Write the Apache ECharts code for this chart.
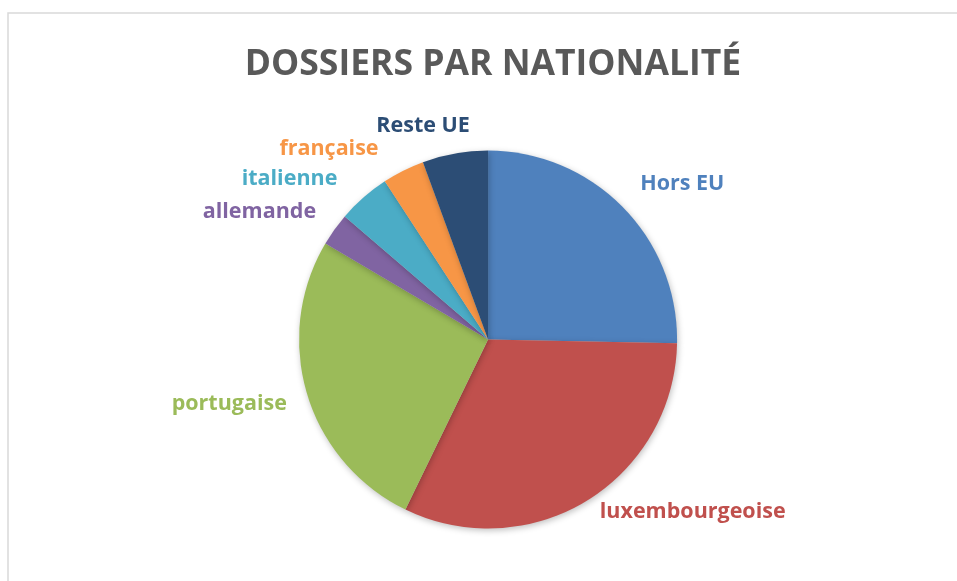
<!DOCTYPE html>
<html>
<head>
<meta charset="utf-8">
<script src="https://cdn.jsdelivr.net/npm/echarts@6/dist/echarts.min.js"></script>
<style>
html,body{margin:0;padding:0;background:#fff;}
#chart{width:957px;height:581px;}
</style>
</head>
<body>
<div id="chart"></div>
<script>
const categories = ["Hors EU", "luxembourgeoise", "portugaise", "allemande", "italienne", "française", "Reste UE"];
const values = [25.3, 31.9, 26.3, 2.8, 4.5, 3.6, 5.6];
const colors = ["#4F81BD", "#C0504D", "#9BBB59", "#8064A2", "#4BACC6", "#F79646", "#2C4D75"];
const titleText = "DOSSIERS PAR NATIONALITÉ";
// label offsets (radial length, horizontal length) for outside labels
const labelLen = [32.8, 13.5, 34, 30, 24.1, 24.2, 27.8];
const labelLen2 = [-6.2, 5.9, -12.4, -6, 10.3, 13.9, -19.7];

const chart = echarts.init(document.getElementById('chart'), null, {renderer: 'canvas'});
const data = categories.map((c, i) => ({
  name: c,
  value: values[i],
  itemStyle: {color: colors[i]},
  label: {color: colors[i]},
  labelLine: {show: false, length: labelLen[i], length2: labelLen2[i]}
}));
chart.setOption({
  backgroundColor: '#ffffff',
  animation: false,
  title: {
    text: titleText,
    left: 488,
    textAlign: 'center',
    top: 42,
    textStyle: {fontFamily: 'Open Sans', fontWeight: 'bold', fontSize: 35.5, color: '#595959'}
  },
  graphic: [{
    type: 'rect',
    shape: {x: 8, y: 13, width: 1000, height: 620},
    style: {fill: 'none', stroke: '#d9d9d9', lineWidth: 1.5},
    silent: true
  }],
  series: [{
    type: 'pie',
    center: ['51%', '58.45%'],
    radius: 189,
    startAngle: 90,
    clockwise: true,
    avoidLabelOverlap: false,
    labelLayout: {hideOverlap: false},
    data: data,
    itemStyle: {borderWidth: 0, shadowBlur: 6, shadowColor: 'rgba(0,0,0,0.25)', shadowOffsetX: 1, shadowOffsetY: 2},
    label: {
      show: true,
      position: 'outside',
      fontFamily: 'Open Sans',
      fontWeight: 'bold',
      fontSize: 21.5,
      distanceToLabelLine: 0,
      formatter: '{b}'
    },
    labelLine: {show: false},
    emphasis: {disabled: true}
  }]
});
</script>
</body>
</html>
